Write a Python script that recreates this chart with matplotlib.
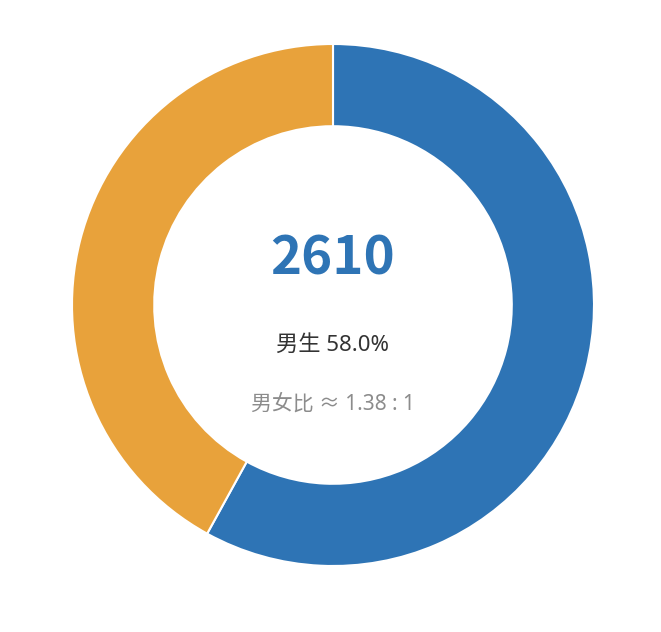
import matplotlib
matplotlib.use('Agg')
import matplotlib.pyplot as plt

plt.rcParams['font.family'] = ['Noto Sans', 'Noto Sans CJK SC', 'DejaVu Sans']

# dados
labels = ['男生', '女生']
counts = [1514, 1096]
colors = ['#2E74B5', '#E8A23B']

total = sum(counts)
pct_male = counts[0] / total * 100
ratio = counts[0] / counts[1]

fig = plt.figure(figsize=(6.61, 6.32), dpi=100)
ax = fig.add_axes([0, 0, 1, 1])

# coordenadas em pixels (y para cima)
cx, cy = 333, 632 - 305
R = 261
ax.pie(counts, colors=colors, startangle=90, counterclock=False,
       center=(cx, cy), radius=R,
       wedgeprops=dict(width=R * 0.315, edgecolor='white', linewidth=1.5))
ax.set_xlim(0, 661)
ax.set_ylim(0, 632)
ax.set_aspect('auto')
ax.axis('off')

# textos centrais
ax.text(cx, 632 - 259, str(total), ha='center', va='center',
        fontsize=38, fontweight='bold', color='#2E74B5',
        family=['Noto Sans CJK SC', 'DejaVu Sans'])
ax.text(cx, 632 - 345, f'{labels[0]} {pct_male:.1f}%', ha='center', va='center',
        fontsize=16, color='#333333')
ax.text(cx, 632 - 404, f'男女比 ≈ {ratio:.2f} : 1', ha='center', va='center',
        fontsize=15, color='#8c8c8c')

fig.savefig('out.png', dpi=100)
